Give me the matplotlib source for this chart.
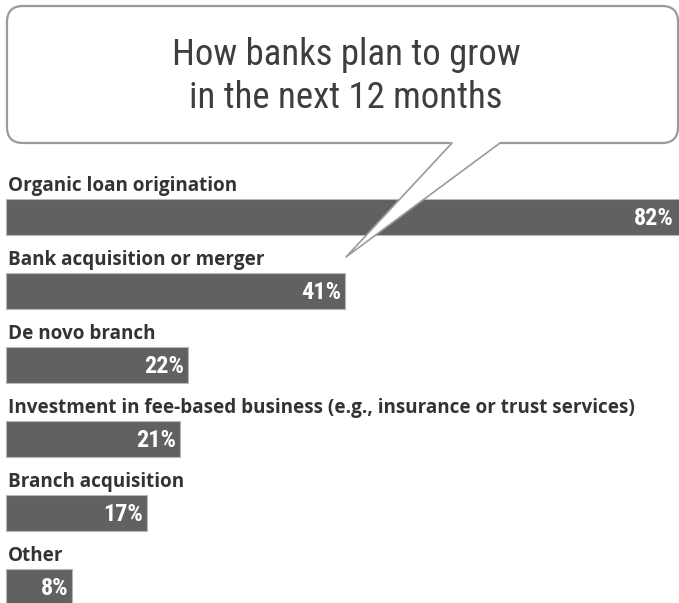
import matplotlib
matplotlib.use("Agg")
import matplotlib.pyplot as plt
from matplotlib.patches import FancyBboxPatch, Polygon
from matplotlib.lines import Line2D

# Survey results: share of banks citing each growth strategy
categories = [
    "Organic loan origination",
    "Bank acquisition or merger",
    "De novo branch",
    "Investment in fee-based business (e.g., insurance or trust services)",
    "Branch acquisition",
    "Other",
]
values = [82, 41, 22, 21, 17, 8]
value_labels = ["82%", "41%", "22%", "21%", "17%", "8%"]
title_lines = ["How banks plan to grow", "in the next 12 months"]

NARROW = "Roboto Condensed"

W, H, DPI = 679, 603, 100
fig = plt.figure(figsize=(W / DPI, H / DPI), dpi=DPI)
fig.patch.set_facecolor("white")

# Pixel geometry of the bar area
px_per_pct = 8.27
x0_px = 6
row0_px = 217
row_px = 74
bar_px = 36

ax = fig.add_axes([0, 0, 1, 1])
ax.set_xlim(-x0_px / px_per_pct, (W - x0_px) / px_per_pct)
ax.set_ylim((H - row0_px) / row_px, -row0_px / row_px)
ax.axis("off")

bar_h = bar_px / row_px
ys = list(range(len(categories)))
ax.barh(ys, values, height=bar_h, left=0, color="#616161",
        edgecolor="#b8b8b8", linewidth=0.8, zorder=2)

for y, cat, v, lab in zip(ys, categories, values, value_labels):
    ax.text(0.25, y - bar_h / 2 - 8 / row_px, cat, ha="left", va="baseline",
            fontsize=13.6, fontweight="bold", family="Open Sans",
            color="#333333", zorder=3)
    ax.text(min(v, 81.2) - 0.45, y + 0.02, lab, ha="right", va="center",
            fontsize=17.5, fontweight="bold", family=NARROW,
            color="white", zorder=3)

# Speech bubble holding the title, drawn in pixel coordinates
ov = fig.add_axes([0, 0, 1, 1], zorder=5)
ov.set_xlim(0, W)
ov.set_ylim(H, 0)
ov.axis("off")
ov.patch.set_alpha(0)

edge = "#9a9a9a"
box = FancyBboxPatch((7, 6), 671, 137, boxstyle="round,pad=0,rounding_size=16",
                     facecolor="white", edgecolor=edge, linewidth=1.6, zorder=1)
ov.add_patch(box)
tail = [(452, 141.5), (346, 257), (500, 141.5)]
ov.add_patch(Polygon(tail, closed=True, facecolor="white", edgecolor="none", zorder=2))
ov.add_patch(Polygon([(452, 140), (500, 140), (500, 145), (452, 145)],
                     closed=True, facecolor="white", edgecolor="none", zorder=2))
ov.add_line(Line2D([452, 346, 500], [143, 257, 143], color=edge, linewidth=1.2, zorder=3))

for yb, line in zip([65, 108], title_lines):
    ov.text(346, yb, line, ha="center", va="baseline", fontsize=26.5,
            fontweight="normal", family=NARROW, color="#3e3e3e", zorder=4)

fig.savefig("out.png", dpi=DPI, facecolor="white")
